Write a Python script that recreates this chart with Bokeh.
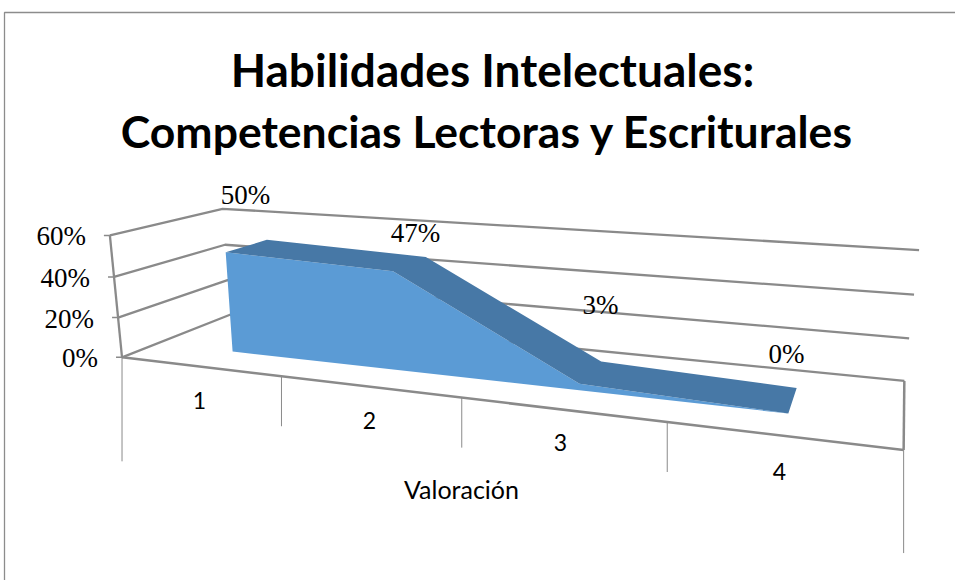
import numpy as np
from bokeh.plotting import figure
from bokeh.embed import file_html
from bokeh.resources import INLINE
from bokeh.core.properties import value

TITLE_LINES = ["Habilidades Intelectuales:", "Competencias Lectoras y Escriturales"]
categories = ["1", "2", "3", "4"]
series_values = [0.50, 0.47, 0.03, 0.00]
value_labels = ["50%", "47%", "3%", "0%"]
y_ticks = [0.0, 0.2, 0.4, 0.6]
y_tick_labels = ["0%", "20%", "40%", "60%"]
x_title = "Valoración"

AXIS_MAX = 0.6
DEPTH_FRONT, DEPTH_BACK = 0.3, 0.7
GRID = "#8a8a8a"
FRONT_FACE = "#5b9bd5"
TOP_FACE = "#4778a6"

# camera calibration: (position along x, value, depth) -> page pixel
calib = [
    ((0, 0, 0), (122, 356)), ((0, 0, 1), (229, 315)), ((1, 0, 1), (904, 380)), ((1, 0, 0), (903, 449)),
    ((0, .6, 0), (109, 235)), ((0, .4, 0), (113, 276)), ((0, .2, 0), (118, 317)),
    ((0, .6, 1), (222, 208)), ((0, .4, 1), (225, 244)), ((1, .6, 1), (918, 250)),
    ((1, .4, 1), (914, 294)), ((1, .2, 1), (909, 338)),
    ((.25, 0, 0), (281, 377)), ((.5, 0, 0), (461, 397)), ((.75, 0, 0), (667, 423)),
    ((.125, 0, .3), (232, 351)), ((.125, .5, .3), (225, 252)), ((.125, .5, .7), (267, 239)),
    ((.375, .47, .3), (393, 271)), ((.375, .47, .7), (425, 257)),
    ((.625, .03, .3), (579, 382)), ((.625, .03, .7), (600, 361)),
    ((.875, 0, .3), (788, 413)), ((.875, 0, .7), (796, 387)),
]
rows = []
for (u, h, d), (px, py) in calib:
    X = np.array([u, h / AXIS_MAX, d, 1.0])
    x, y = px / 1000, py / 1000
    rows.append(np.r_[X, 0 * X, -x * X])
    rows.append(np.r_[0 * X, X, -y * X])
_, _, vt = np.linalg.svd(np.array(rows))
P = vt[-1].reshape(3, 4)


def proj(u, h, d):
    q = P @ np.array([u, h / AXIS_MAX, d, 1.0])
    return 1000 * q[0] / q[2], 1000 * q[1] / q[2]


def segment(a, b, color=GRID, width=2.3):
    p.line([a[0], b[0]], [a[1], b[1]], line_color=color, line_width=width)


p = figure(width=955, height=580, x_range=(0, 955), y_range=(580, 0), output_backend="svg",
           toolbar_location=None, min_border=0, margin=(0, 0, 0, 0), outline_line_color=None)
p.axis.visible = False
p.grid.visible = False

# chart frame
p.line([4, 4, 955], [580, 12, 12], line_color="#8c8c8c", line_width=1.3)

# walls
for t in y_ticks:
    a, b, c = proj(0, t, 0), proj(0, t, 1), proj(1, t, 1)
    p.line([a[0], b[0], c[0]], [a[1], b[1], c[1]], line_color=GRID, line_width=2.3)
    segment((a[0] - 6, a[1]), a, width=1.5)
segment(proj(0, 0, 0), proj(0, AXIS_MAX, 0))
segment(proj(0, 0, 0), proj(1, 0, 0), width=2.5)
segment(proj(1, 0, 0), proj(1, 0, 1), width=2.5)

# category separators hanging from the front floor edge
tick_lengths = [104, 50, 50, 50, 103]
for i, n in enumerate(tick_lengths):
    a = proj(i / 4, 0, 0)
    segment(a, (a[0], a[1] + n), width=1.0)

# area
us = [(i + 0.5) / len(categories) for i in range(len(categories))]
front_top = [proj(u, v, DEPTH_FRONT) for u, v in zip(us, series_values)]
back_top = [proj(u, v, DEPTH_BACK) for u, v in zip(us, series_values)]
front_floor = [proj(u, 0, DEPTH_FRONT) for u in us]
poly = front_top + front_floor[::-1]
p.patch([q[0] for q in poly], [q[1] for q in poly], fill_color=FRONT_FACE, line_color=None)
strip = back_top + front_top[::-1]
p.patch([q[0] for q in strip], [q[1] for q in strip], fill_color=TOP_FACE, line_color=None)


def label(x, y, s, font, size, color="#000000", align="center", style="normal"):
    p.text([x], [y], text=[s], text_font=value(font), text_font_size=f"{size}px", text_color=color,
           text_align=align, text_baseline="middle", text_font_style=style)


# title
TITLE_X = [492, 487]
TITLE_Y = [69, 130]
TITLE_SIZE = [46, 44.5]
for xx, yy, sz, s in zip(TITLE_X, TITLE_Y, TITLE_SIZE, TITLE_LINES):
    label(xx, yy, s, "Lato", sz, style="bold")

# y tick labels
for t, s in zip(y_ticks, y_tick_labels):
    a = proj(0, t, 0)
    label(a[0] - 24, a[1] + 1, s, "Liberation Serif", 27, align="right")

# value labels
VALUE_LABEL_X = [245, 415, 600, 786]
VALUE_LABEL_Y = [194, 232, 304, 353]
for x, y, s in zip(VALUE_LABEL_X, VALUE_LABEL_Y, value_labels):
    label(x, y, s, "Liberation Serif", 27)

# category labels
CAT_LABEL_X = [199, 369, 560, 779]
CAT_LABEL_Y = [400, 420, 442, 471]
for x, y, s in zip(CAT_LABEL_X, CAT_LABEL_Y, categories):
    label(x, y, s, "Lato", 23)

label(461, 488, x_title, "Lato", 25)

open("out.html", "w").write(file_html(p, INLINE))
